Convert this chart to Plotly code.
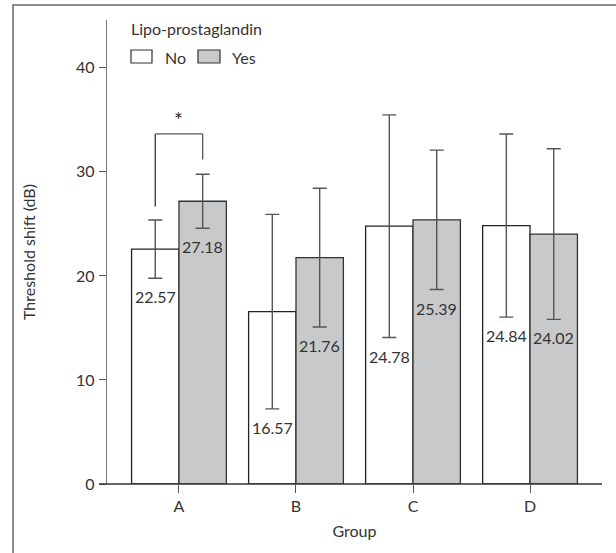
import plotly.graph_objects as go

groups = ["A", "B", "C", "D"]
no_vals = [22.57, 16.57, 24.78, 24.84]
yes_vals = [27.18, 21.76, 25.39, 24.02]
no_err = [2.8, 9.35, 10.7, 8.8]
yes_err = [2.6, 6.67, 6.7, 8.2]

W, H = 616, 553
L, R, T, B = 107, 14, 20, 69
PW, PH = W - L - R, H - T - B
YMAX = 44.6
FONT = "Lato"
FS = 16
TXT = "#333333"

def px(x):
    return (x - L) / PW

def py(y):
    return (H - B - y) / PH

bargap = 0.19
half = (1 - bargap) / 4  # offset of each bar centre from the category

fig = go.Figure()
fig.add_trace(go.Bar(
    x=groups, y=no_vals, name="No",
    marker=dict(color="white", line=dict(color="#222222", width=1.3)),
    error_y=dict(type="data", array=no_err, color="#555555", thickness=1.4, width=7),
    showlegend=False,
))
fig.add_trace(go.Bar(
    x=groups, y=yes_vals, name="Yes",
    marker=dict(color="#c8c9cb", line=dict(color="#333333", width=1.3)),
    error_y=dict(type="data", array=yes_err, color="#555555", thickness=1.4, width=7),
    showlegend=False,
))

annotations = []
for i, g in enumerate(groups):
    for vals, errs, off in ((no_vals, no_err, -half), (yes_vals, yes_err, half)):
        annotations.append(dict(
            x=i + off, y=vals[i] - errs[i], xref="x", yref="y",
            text=f"{vals[i]:.2f}", showarrow=False, yanchor="top",
            yshift=-7, font=dict(family=FONT, size=FS, color=TXT),
        ))

# significance bracket for group A
a_no_x, a_yes_x = 0 - half, 0 + half
top_y = 33.65
shapes = [
    dict(type="line", xref="x", yref="y", x0=a_no_x, x1=a_no_x,
         y0=no_vals[0] + no_err[0] + 1.3, y1=top_y, line=dict(color="#333333", width=1.3)),
    dict(type="line", xref="x", yref="y", x0=a_no_x, x1=a_yes_x,
         y0=top_y, y1=top_y, line=dict(color="#555555", width=1.3)),
    dict(type="line", xref="x", yref="y", x0=a_yes_x, x1=a_yes_x,
         y0=top_y, y1=yes_vals[0] + yes_err[0] + 1.4, line=dict(color="#555555", width=1.3)),
    # x axis line extended left past y axis
    dict(type="line", xref="paper", yref="paper", x0=px(99), x1=1, y0=0, y1=0,
         line=dict(color="#333333", width=1.4)),
    # outer frame
    dict(type="rect", xref="paper", yref="paper", x0=px(13), x1=px(700), y0=py(600), y1=py(5),
         line=dict(color="#666666", width=1.5)),
    # legend boxes
    dict(type="rect", xref="paper", yref="paper", x0=px(131), x1=px(152), y0=py(63), y1=py(50),
         fillcolor="white", line=dict(color="#333333", width=1.2)),
    dict(type="rect", xref="paper", yref="paper", x0=px(198), x1=px(220), y0=py(63), y1=py(50),
         fillcolor="#c8c9cb", line=dict(color="#333333", width=1.2)),
]
annotations += [
    dict(x=0, y=top_y, xref="x", yref="y", text="*", showarrow=False, yanchor="bottom",
         yshift=0, font=dict(family=FONT, size=21, color=TXT)),
    dict(x=px(129), y=py(29), xref="paper", yref="paper", text="Lipo-prostaglandin",
         showarrow=False, xanchor="left", yanchor="middle",
         font=dict(family=FONT, size=FS, color=TXT)),
    dict(x=px(163), y=py(57), xref="paper", yref="paper", text="No",
         showarrow=False, xanchor="left", yanchor="middle",
         font=dict(family=FONT, size=FS, color=TXT)),
    dict(x=px(230), y=py(57), xref="paper", yref="paper", text="Yes",
         showarrow=False, xanchor="left", yanchor="middle",
         font=dict(family=FONT, size=FS, color=TXT)),
]

fig.update_layout(
    width=W, height=H,
    margin=dict(l=L, r=R, t=T, b=B),
    paper_bgcolor="white", plot_bgcolor="white",
    barmode="group", bargap=bargap, bargroupgap=0,
    font=dict(family=FONT, size=FS, color=TXT),
    shapes=shapes, annotations=annotations,
    xaxis=dict(
        range=[-0.615, 3.615], showline=False, showgrid=False, zeroline=False,
        ticks="outside", ticklen=8, tickcolor="#555555", tickwidth=1.3,
        tickfont=dict(family=FONT, size=FS, color=TXT),
        title=dict(text="Group", font=dict(family=FONT, size=FS, color=TXT), standoff=11),
    ),
    yaxis=dict(
        range=[0, YMAX], showline=True, linecolor="#777777", linewidth=1.4,
        showgrid=False, zeroline=False,
        tickvals=[0, 10, 20, 30, 40],
        ticks="outside", ticklen=7, tickcolor="#555555", tickwidth=1.3,
        ticklabelstandoff=1,
        tickfont=dict(family=FONT, size=FS, color=TXT),
        title=dict(text="Threshold shift (dB)", font=dict(family=FONT, size=FS, color=TXT), standoff=36),
    ),
)

fig.write_html("out.html")
